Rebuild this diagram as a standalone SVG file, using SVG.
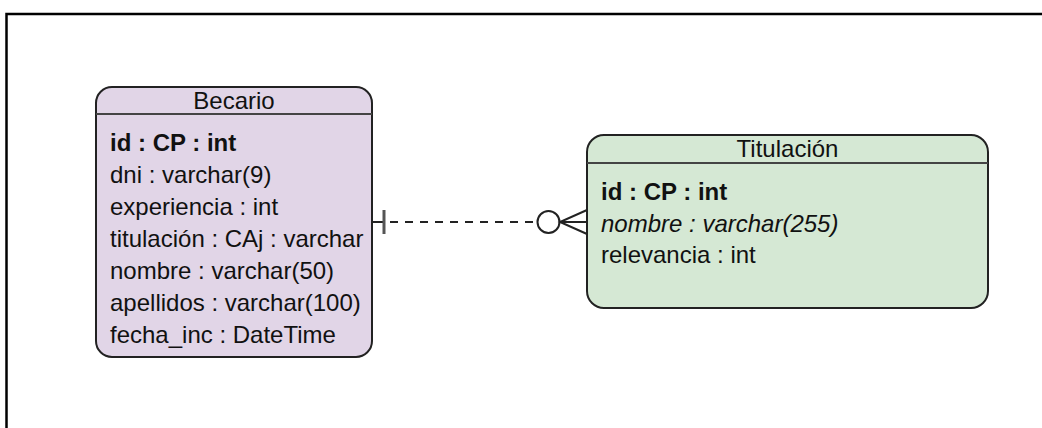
<svg xmlns="http://www.w3.org/2000/svg" width="1042" height="428" viewBox="0 0 1042 428">
  <style>
    .frame { fill: none; stroke: #000; stroke-width: 2.5; }
    .box { stroke: #222; stroke-width: 2; }
    .becario { fill: #e1d5e7; }
    .titulacion { fill: #d5e8d4; }
    .sep { stroke: #444; stroke-width: 2; }
    text { font-family: "Liberation Sans", Arial, sans-serif; font-size: 24px; fill: #111; }
    .title { text-anchor: middle; }
    .pk { font-weight: bold; }
    .it { font-style: italic; }
    .rel { fill: none; stroke: #222; stroke-width: 2; }
  </style>

  <!-- page frame -->
  <path class="frame" d="M6.5 440 V14 H1050"/>

  <!-- Becario entity -->
  <g id="becario">
    <rect class="box becario" x="96" y="87" width="276" height="270" rx="16" ry="16"/>
    <line class="sep" x1="96" y1="114" x2="372" y2="114"/>
    <text class="title" x="234" y="109">Becario</text>
    <text class="pk" x="110" y="151">id : CP : int</text>
    <text x="110" y="183">dni : varchar(9)</text>
    <text x="110" y="215">experiencia : int</text>
    <text x="110" y="247">titulación : CAj : varchar</text>
    <text x="110" y="279">nombre : varchar(50)</text>
    <text x="110" y="311">apellidos : varchar(100)</text>
    <text x="110" y="343">fecha_inc : DateTime</text>
  </g>

  <!-- Titulación entity -->
  <g id="titulacion">
    <rect class="box titulacion" x="587" y="135" width="401" height="173" rx="17" ry="17"/>
    <line class="sep" x1="587" y1="163" x2="988" y2="163"/>
    <text class="title" x="787.5" y="157">Titulación</text>
    <text class="pk" x="601" y="200">id : CP : int</text>
    <text class="it" x="601" y="232">nombre : varchar(255)</text>
    <text x="601" y="263">relevancia : int</text>
  </g>

  <!-- one-to-zero-or-many relationship -->
  <g id="connectors">
    <line class="rel" x1="372" y1="222" x2="384" y2="222"/>
    <line x1="384" y1="210" x2="384" y2="234" stroke="#555" stroke-width="3"/>
    <line class="rel" x1="390" y1="222" x2="537" y2="222" stroke-dasharray="8 7"/>
    <circle class="rel" cx="548.5" cy="222" r="11"/>
    <path class="rel" d="M587 210 L560 222 L587 234 M560 222 H587"/>
  </g>
</svg>
